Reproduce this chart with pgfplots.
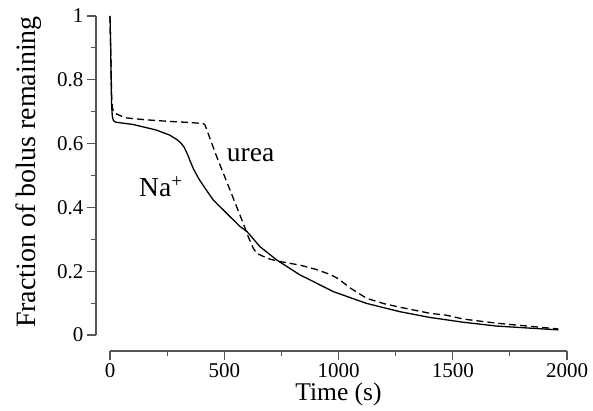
\documentclass[border=0pt]{standalone}
\usepackage{fontspec}
\setmainfont{Liberation Serif}
\usepackage{pgfplots}
\pgfplotsset{compat=1.18}
\definecolor{axisgray}{RGB}{85,85,85}

\pgfplotstableread{
t     f
0     1.000
3     0.900
5     0.800
7     0.720
10    0.686
15    0.672
25    0.667
100   0.660
200   0.643
260   0.627
292   0.613
310   0.602
325   0.588
340   0.565
352   0.543
365   0.521
390   0.488
420   0.456
452   0.423
500   0.389
569   0.340
600   0.324
656   0.277
730   0.235
832   0.188
861   0.178
977   0.136
1123  0.099
1269  0.073
1400  0.055
1546  0.040
1692  0.028
1962  0.016
}\sodium

\pgfplotstableread{
t     f
0     1.000
3     0.900
5     0.820
7     0.750
10    0.715
15    0.700
22    0.695
66    0.681
150   0.675
250   0.670
350   0.666
408   0.663
416   0.658
467   0.559
525   0.455
583   0.350
605   0.308
627   0.272
642   0.256
690   0.240
730   0.232
832   0.219
900   0.206
963   0.190
1000  0.176
1050  0.148
1123  0.115
1200  0.098
1269  0.087
1400  0.068
1473  0.062
1546  0.050
1692  0.037
1962  0.019
}\urea

\begin{document}
\begin{tikzpicture}
% y axis (with the data)
\begin{axis}[
    scale only axis,
    width=471pt, height=319pt,
    at={(96pt,76pt)}, anchor=south west,
    xmin=-61.3, xmax=2000, ymin=0, ymax=1,
    axis x line=none, axis y line*=left,
    clip=false,
    ytick={0,0.2,0.4,0.6,0.8,1},
    minor y tick num=1,
    tick align=outside,
    major tick length=9pt, minor tick length=5pt,
    axis line style={draw=axisgray, line width=1.1pt, -},
    every tick/.style={draw=axisgray, line width=1.1pt},
    y tick label style={font=\rmfamily\fontsize{21}{21}\selectfont},
    /pgf/number format/assume math mode=true,
    ylabel={Fraction of bolus remaining},
    ylabel style={font=\rmfamily\fontsize{28}{28}\selectfont,
                  at={(axis description cs:-0.144,0.511)}, anchor=center},
]
\addplot[black, line width=1.3pt, line join=round] table[x=t, y=f] {\sodium};
\addplot[black, line width=1.3pt, dash pattern=on 7pt off 4pt] table[x=t, y=f] {\urea};
\node[anchor=base west, font=\rmfamily\fontsize{27.5}{27.5}\selectfont, inner sep=0pt]
    at (axis cs:511,0.545) {urea};
\node[anchor=base west, font=\rmfamily\fontsize{27.5}{27.5}\selectfont, inner sep=0pt]
    at (axis cs:127,0.433) {Na\textsuperscript{+}};
\end{axis}
% detached x axis
\begin{axis}[
    scale only axis,
    width=457pt, height=100pt,
    at={(110pt,60pt)}, anchor=south west,
    xmin=0, xmax=2000, ymin=0, ymax=1,
    axis y line=none, axis x line*=bottom,
    xtick={0,500,1000,1500,2000},
    minor x tick num=1,
    tick align=outside,
    major tick length=9pt, minor tick length=5pt,
    axis line style={draw=axisgray, line width=1.1pt, -},
    every tick/.style={draw=axisgray, line width=1.1pt},
    x tick label style={font=\rmfamily\fontsize{21}{21}\selectfont},
    /pgf/number format/assume math mode=true,
    /pgf/number format/1000 sep={},
    scaled ticks=false,
    xlabel={Time (s)},
    xlabel style={font=\rmfamily\fontsize{25.5}{25.5}\selectfont,
                  at={(axis description cs:0.5,-0.50)}, anchor=base},
]
\end{axis}
\pgfresetboundingbox
\useasboundingbox (0,0) rectangle (593pt,411pt);
\end{tikzpicture}
\end{document}
